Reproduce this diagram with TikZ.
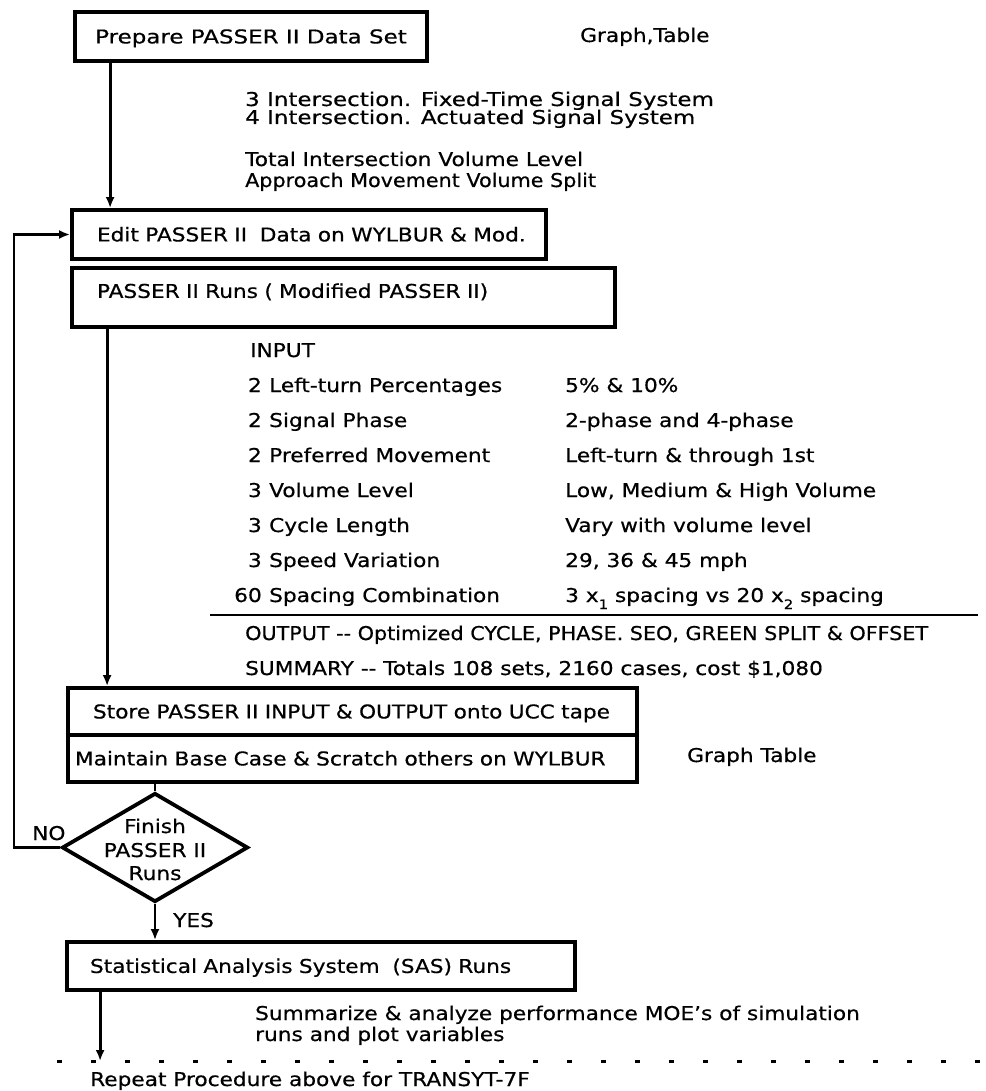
\documentclass[tikz,border=0pt]{standalone}
\usepackage{fontspec}
\setmainfont[FakeStretch=1.14,FakeBold=0.6]{DejaVu Sans}
\newfontfamily\narrowfont[FakeStretch=1.09,FakeBold=0.6]{DejaVu Sans}
\newfontfamily\widefont[FakeStretch=1.21,FakeBold=0.6]{DejaVu Sans}
\usetikzlibrary{arrows.meta,shapes.geometric}
\begin{document}
\begin{tikzpicture}[x=1pt,y=-1pt,
  font=\fontsize{19}{19}\selectfont,
  box/.style={draw, line width=3.8pt, inner sep=0pt, text height=13.85pt, text depth=0pt},
  txt/.style={anchor=base west, inner sep=0pt},
  txtc/.style={anchor=base, inner sep=0pt},
  wide/.style={font=\widefont\fontsize{19}{19}\selectfont},
  narrow/.style={font=\narrowfont\fontsize{19}{19}\selectfont},
  conn/.style={line width=2.8pt},
  arr/.style={conn, -{Latex[length=11pt,width=9pt]}},
]
\useasboundingbox (0,0) rectangle (985,1091);

% boxes
\node[box, wide, minimum width=352pt, minimum height=49pt] (prep) at (251,36.5) {Prepare PASSER II Data Set};
\node[box, minimum width=474pt, minimum height=49pt, text width=424pt, align=left] (edit) at (309,234.5) {\mbox{Edit PASSER II\ \ Data on WYLBUR \& Mod.}};
\node[box, minimum width=543pt, minimum height=59pt, text width=493pt, align=left, text depth=13.05pt] (runs) at (343.5,297.5) {\mbox{PASSER II Runs ( Modified PASSER II)}};
\node[box, minimum width=569pt, minimum height=47pt, text width=519pt, align=left] (storeA) at (352.5,711.5) {\mbox{Store PASSER II INPUT \& OUTPUT onto UCC tape}};
\node[box, minimum width=569pt, minimum height=47pt, text width=555pt, align=left] (storeB) at (352.5,758.5) {\mbox{Maintain Base Case \& Scratch others on WYLBUR}};
\node[draw, diamond, line width=3.8pt, inner sep=0pt, minimum width=186pt, minimum height=109pt] (dia) at (155,847.5) {};
\node[txtc] (dia1) at (155,833) {Finish};
\node[txtc] (dia2) at (155,857) {PASSER II};
\node[txtc] (dia3) at (155,880) {Runs};
\node[box, minimum width=508pt, minimum height=48pt, text width=462pt, align=left] (sas) at (321,966) {\mbox{Statistical Analysis System\ \ (SAS) Runs}};

% annotations
\node[txt] (gt1) at (580,42) {Graph,Table};
\node[txt, wide] (i3) at (245,106) {3 Intersection. Fixed-Time Signal System};
\node[txt, wide] (i4) at (245,124) {4 Intersection. Actuated Signal System};
\node[txt] (tv) at (245,166) {Total Intersection Volume Level};
\node[txt, narrow] (am) at (245,187) {Approach Movement Volume Split};

\node[txt] (inp) at (250,357) {INPUT};
\foreach \n/\lab/\val [count=\i from 0] in {
  2/{Left-turn Percentages}/{5\% \& 10\%},
  2/{Signal Phase}/{2-phase and 4-phase},
  2/{Preferred Movement}/{Left-turn \& through 1st},
  3/{Volume Level}/{Low, Medium \& High Volume},
  3/{Cycle Length}/{Vary with volume level},
  3/{Speed Variation}/{29, 36 \& 45 mph},
  60/{Spacing Combination}/{3 x\raisebox{-7pt}{\fontsize{13}{13}\selectfont 1} spacing vs 20 x\raisebox{-7pt}{\fontsize{13}{13}\selectfont 2} spacing}}{
  \node[anchor=base east, inner sep=0pt] (n\i) at (262,392+35*\i) {\n};
  \node[txt] (l\i) at (269,392+35*\i) {\lab};
  \node[txt] (v\i) at (565,392+35*\i) {\val};
}
\coordinate (hl) at (210,615);
\coordinate (hr) at (978,615);
\draw[conn] (hl) -- (hr);
\node[txt, narrow] (outp) at (245,640) {OUTPUT -{}- Optimized CYCLE, PHASE. SEO, GREEN SPLIT \& OFFSET};
\node[txt] (summ) at (245,675) {SUMMARY -{}- Totals 108 sets, 2160 cases, cost \$1,080};
\node[txt] (gt2) at (687,762) {Graph Table};

\node[txt] (no) at (32,840) {NO};
\node[txt] (yes) at (173,927) {YES};
\node[txt] (sum1) at (255,1020) {Summarize \& analyze performance MOE's of simulation};
\node[txt] (sum2) at (255,1041) {runs and plot variables};
\node[txt] (rep) at (90,1086) {Repeat Procedure above for TRANSYT-7F};

% connectors
\draw[arr] ([xshift=37pt]prep.south west) -- ([xshift=37pt]prep.south west |- edit.north);
\draw[arr] ([xshift=37pt]runs.south west) -- ([xshift=37pt]runs.south west |- storeA.north);
\draw[conn] (dia.north) -- (dia.north |- storeB.south);
\draw[arr] (dia.south) -- (dia.south |- sas.north);
\coordinate (fb) at (14,847.5);
\draw[arr] (dia.west) -- (dia.west -| fb) |- (edit.west);
\coordinate (dl) at (57,1061);
\coordinate (dr) at (985,1061);
\draw[line width=3pt, dash pattern=on 5pt off 29pt] (dl) -- (dr);
\draw[arr] ([xshift=35pt]sas.south west) -- ([xshift=35pt]sas.south west |- dl);
\end{tikzpicture}
\end{document}
